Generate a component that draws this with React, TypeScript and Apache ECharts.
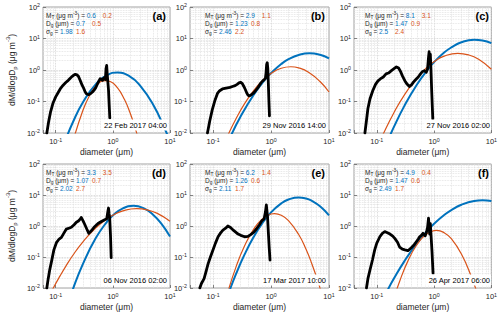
import React, { useEffect, useRef } from "react";
import * as echarts from "echarts";

const BLUE = "#0072BD";
const ORANGE = "#D95319";
const INK = "#262626";
const FONT = "'Liberation Sans', Arial, Helvetica, sans-serif";

// ---------- texts ----------
const panelLetters = ["(a)", "(b)", "(c)", "(d)", "(e)", "(f)"];
const panelDates = [
  "22 Feb 2017 04:00",
  "29 Nov 2016 14:00",
  "27 Nov 2016 02:00",
  "06 Nov 2016 02:00",
  "17 Mar 2017 10:00",
  "26 Apr 2017 06:00",
];
const massBlue = ["0.6", "2.9", "8.1", "3.3", "6.2", "4.9"];
const massOrange = ["0.2", "1.1", "3.1", "3.5", "1.4", "0.4"];
const dgBlue = ["0.7", "1.23", "1.47", "1.07", "1.26", "1.47"];
const dgOrange = ["0.5", "0.8", "0.9", "0.7", "0.6", "0.6"];
const sgBlue = ["1.98", "2.46", "2.5", "2.02", "2.11", "2.49"];
const sgOrange = ["1.6", "2.2", "2.4", "2.7", "1.7", "1.7"];

// ---------- axis ticks ----------
const yTickValues = [0.01, 0.1, 1, 10, 100];
const xTickValues = [0.1, 1, 10];
const minorSteps = [2, 3, 4, 5, 6, 7, 8, 9];
const xDecades = [0.01, 0.1, 1];
const yDecades = [0.01, 0.1, 1, 10];

// ---------- measured mass distributions [diameter um, dM/dlogDp] ----------
const measuredA = [[0.07,0.01],[0.075,0.022],[0.081,0.045],[0.09,0.09],[0.1,0.14],[0.11,0.19],[0.12,0.25],[0.135,0.33],[0.15,0.4],[0.166,0.47],[0.18,0.55],[0.195,0.63],[0.21,0.7],[0.22,0.73],[0.235,0.7],[0.25,0.63],[0.262,0.52],[0.275,0.42],[0.29,0.33],[0.31,0.26],[0.325,0.21],[0.34,0.18],[0.36,0.17],[0.38,0.165],[0.41,0.18],[0.44,0.2],[0.47,0.23],[0.5,0.27],[0.53,0.34],[0.56,0.42],[0.6,0.53],[0.63,0.5],[0.66,0.47],[0.69,0.55],[0.71,0.57],[0.74,0.5],[0.76,1.1],[0.78,1.4],[0.8,0.68],[0.82,0.4],[0.84,0.23],[0.86,0.09],[0.885,0.03]];
const measuredB = [[0.08,0.01],[0.088,0.025],[0.097,0.055],[0.108,0.11],[0.119,0.18],[0.13,0.22],[0.145,0.25],[0.16,0.26],[0.177,0.27],[0.195,0.28],[0.216,0.3],[0.24,0.32],[0.26,0.35],[0.28,0.39],[0.3,0.41],[0.32,0.37],[0.34,0.3],[0.36,0.24],[0.38,0.19],[0.4,0.16],[0.42,0.15],[0.45,0.16],[0.49,0.18],[0.54,0.22],[0.59,0.27],[0.63,0.33],[0.67,0.39],[0.72,0.45],[0.77,0.5],[0.8,0.55],[0.82,0.8],[0.84,1.5],[0.86,1.7],[0.88,1.1],[0.9,0.35],[0.92,0.1],[0.94,0.035]];
const measuredC = [[0.062,0.01],[0.066,0.025],[0.07,0.06],[0.076,0.12],[0.085,0.22],[0.095,0.35],[0.105,0.45],[0.115,0.52],[0.13,0.6],[0.145,0.75],[0.16,0.8],[0.18,0.95],[0.2,1.1],[0.22,1.25],[0.24,1.15],[0.26,0.9],[0.28,0.65],[0.31,0.45],[0.34,0.35],[0.37,0.3],[0.4,0.33],[0.44,0.42],[0.48,0.5],[0.53,0.6],[0.58,0.75],[0.63,0.9],[0.68,0.95],[0.73,0.85],[0.77,1.1],[0.8,2.5],[0.82,3.8],[0.84,2.0],[0.86,3.2],[0.88,1.2],[0.91,0.2],[0.95,0.028]];
const measuredD = [[0.07,0.01],[0.074,0.02],[0.079,0.04],[0.085,0.075],[0.093,0.17],[0.103,0.29],[0.115,0.38],[0.126,0.43],[0.14,0.6],[0.153,0.79],[0.17,0.85],[0.188,0.91],[0.21,1.1],[0.23,1.32],[0.25,1.45],[0.27,1.7],[0.28,1.9],[0.3,1.5],[0.32,1.16],[0.35,0.8],[0.38,0.58],[0.42,0.7],[0.48,0.95],[0.55,1.2],[0.63,1.4],[0.72,1.6],[0.78,1.7],[0.82,3.0],[0.84,3.8],[0.86,2.5],[0.88,1.9],[0.91,0.5],[0.935,0.095]];
const measuredE = [[0.059,0.01],[0.063,0.014],[0.07,0.02],[0.076,0.035],[0.082,0.06],[0.09,0.1],[0.1,0.17],[0.11,0.28],[0.122,0.45],[0.135,0.6],[0.148,0.74],[0.165,0.85],[0.18,1.0],[0.2,0.9],[0.22,0.75],[0.24,0.66],[0.27,0.55],[0.3,0.5],[0.35,0.45],[0.4,0.46],[0.44,0.52],[0.5,0.62],[0.56,0.8],[0.63,1.1],[0.7,1.5],[0.76,1.7],[0.8,2.8],[0.83,4.8],[0.85,3.0],[0.87,2.0],[0.9,0.6],[0.93,0.2],[0.96,0.08]];
const measuredF = [[0.066,0.01],[0.07,0.02],[0.076,0.038],[0.084,0.08],[0.092,0.17],[0.1,0.28],[0.113,0.45],[0.125,0.58],[0.138,0.66],[0.15,0.62],[0.17,0.55],[0.19,0.47],[0.206,0.4],[0.23,0.3],[0.25,0.21],[0.28,0.18],[0.31,0.17],[0.35,0.16],[0.4,0.2],[0.45,0.25],[0.49,0.31],[0.53,0.38],[0.56,0.45],[0.6,0.5],[0.64,0.58],[0.7,0.48],[0.74,0.65],[0.77,0.9],[0.8,1.8],[0.82,0.9],[0.84,0.55],[0.86,1.2],[0.88,0.6],[0.92,0.15],[0.96,0.03]];

// ---------- fitted modes (blue = fit 1, orange = fit 2) ----------
const blueFitA = [[0.15,0.0062],[0.2,0.022],[0.3,0.094],[0.5,0.35],[0.8,0.69],[1.2,0.83],[2,0.62],[3,0.32],[5,0.084],[8,0.0144],[10,0.0052]];
const orangeFitA = [[0.2,0.0053],[0.3,0.053],[0.4,0.167],[0.5,0.3],[0.7,0.46],[0.9,0.43],[1.2,0.275],[1.6,0.115],[2,0.044],[2.5,0.013],[3,0.004]];
const blueFitB = [[0.2,0.0077],[0.3,0.034],[0.5,0.16],[0.8,0.51],[1,0.8],[1.5,1.55],[2,2.2],[3,3.0],[4.6,3.4],[7,3.05],[10,2.35]];
const orangeFitB = [[0.18,0.0085],[0.25,0.029],[0.35,0.086],[0.5,0.22],[0.7,0.45],[1,0.78],[1.5,1.14],[2.2,1.27],[3,1.17],[4.5,0.84],[7,0.43],[10,0.2]];
const blueFitC = [[0.15,0.0049],[0.2,0.0159],[0.3,0.07],[0.5,0.34],[0.8,1.11],[1,1.78],[1.5,3.59],[2,5.2],[3,7.6],[5,9.1],[7,8.7],[10,7.1]];
const orangeFitC = [[0.1,0.0032],[0.13,0.0094],[0.2,0.045],[0.3,0.157],[0.5,0.56],[0.8,1.35],[1,1.84],[1.5,2.76],[2.6,3.39],[4,3.02],[6,2.18],[10,1.06]];
const blueFitD = [[0.15,0.0019],[0.2,0.0091],[0.3,0.06],[0.5,0.4],[0.8,1.41],[1,2.18],[1.5,3.71],[2.3,4.47],[3.5,3.71],[5,2.37],[7,1.22],[10,0.46]];
const orangeFitD = [[0.07,0.0038],[0.09,0.0096],[0.12,0.025],[0.15,0.05],[0.2,0.114],[0.3,0.31],[0.5,0.86],[0.8,1.74],[1,2.23],[1.5,3.08],[2.6,3.63],[4,3.31],[6,2.55],[10,1.43]];
const blueFitE = [[0.18,0.0059],[0.25,0.029],[0.35,0.121],[0.5,0.44],[0.7,1.19],[1,2.75],[1.5,5.36],[2,7.16],[3,8.32],[4,7.71],[5,6.55],[7,4.31],[10,2.2]];
const orangeFitE = [[0.18,0.0075],[0.25,0.049],[0.35,0.23],[0.5,0.78],[0.7,1.66],[1,2.43],[1.15,2.51],[1.5,2.22],[2,1.49],[3,0.53],[4,0.18],[5,0.064],[6.5,0.0155],[8,0.0042]];
const blueFitF = [[0.15,0.0077],[0.2,0.0205],[0.3,0.071],[0.5,0.275],[0.8,0.77],[1,1.18],[1.5,2.25],[2,3.27],[3,4.83],[5,6.4],[7,6.76],[10,6.4]];
const orangeFitF = [[0.2,0.0047],[0.25,0.0163],[0.35,0.075],[0.5,0.248],[0.7,0.51],[1,0.71],[1.1,0.72],[1.5,0.61],[2,0.39],[3,0.125],[4.5,0.0228],[5.5,0.0079]];

const measured = [measuredA, measuredB, measuredC, measuredD, measuredE, measuredF];
const blueFits = [blueFitA, blueFitB, blueFitC, blueFitD, blueFitE, blueFitF];
const orangeFits = [orangeFitA, orangeFitB, orangeFitC, orangeFitD, orangeFitE, orangeFitF];

// ---------- layout ----------
const COLS = [
  { left: 43, width: 127, xMin: 0.06, textDx: 3 },
  { left: 190, width: 139, xMin: 0.04, textDx: 15 },
  { left: 354, width: 139, xMin: 0.04, textDx: 11 },
];
const ROWS = [
  { top: 7, height: 126 },
  { top: 164, height: 124 },
];

const powerLabel = (v: number) => {
  const e = Math.log10(v);
  const r = Math.round(e);
  if (Math.abs(e - r) > 1e-6) return "";
  return `{b|10}{s|${r}}`;
};

const tickRich = {
  b: { fontSize: 7.5, fontFamily: FONT, color: INK, lineHeight: 8.5, verticalAlign: "middle" },
  s: { fontSize: 5.3, fontFamily: FONT, color: INK, lineHeight: 8.5, verticalAlign: "top" },
};

function buildOption() {
  const grid: any[] = [];
  const xAxis: any[] = [];
  const yAxis: any[] = [];
  const series: any[] = [];
  const graphic: any[] = [];

  for (let i = 0; i < 6; i++) {
    const r = ROWS[Math.floor(i / 3)];
    const c = COLS[i % 3];
    grid.push({
      left: c.left, top: r.top, width: c.width, height: r.height,
      show: true, borderColor: "#a3a3a3", borderWidth: 1, backgroundColor: "#fff",
    });
    xAxis.push({
      type: "log", logBase: 10, gridIndex: i, min: c.xMin, max: xTickValues[xTickValues.length - 1],
      axisLine: { show: false },
      axisTick: { show: true, inside: true, length: 3, lineStyle: { color: "#666", width: 0.8 } },
      splitLine: { show: true, lineStyle: { color: "#cccccc", type: "dotted", width: 0.8 } },
      axisLabel: { margin: 4.5, formatter: powerLabel, rich: tickRich },
      name: "diameter (μm)", nameLocation: "middle", nameGap: 14,
      nameTextStyle: { fontSize: 8.5, fontFamily: FONT, color: INK },
    });
    yAxis.push({
      type: "log", logBase: 10, gridIndex: i, min: yTickValues[0], max: yTickValues[yTickValues.length - 1],
      axisLine: { show: false },
      axisTick: { show: true, inside: true, length: 3, lineStyle: { color: "#666", width: 0.8 } },
      splitLine: { show: true, lineStyle: { color: "#cccccc", type: "dotted", width: 0.8 } },
      axisLabel: { margin: 3, formatter: powerLabel, rich: tickRich },
      name: i % 3 === 0 ? "dM/dlogD{sub|p} (μg m{sup|-3})" : "",
      nameLocation: "middle", nameGap: 25,
      nameTextStyle: {
        fontSize: 8.5, fontFamily: FONT, color: INK, lineHeight: 13,
        rich: {
          sub: { fontSize: 6, fontFamily: FONT, color: INK, lineHeight: 13, verticalAlign: "bottom" },
          sup: { fontSize: 6, fontFamily: FONT, color: INK, lineHeight: 13, verticalAlign: "top" },
        },
      },
    });

    const minorX: any[] = [];
    xDecades.forEach((d) => minorSteps.forEach((m) => {
      const v = d * m;
      if (v > c.xMin * 1.0001) minorX.push({ xAxis: v });
    }));
    const minorY: any[] = [];
    yDecades.forEach((d) => minorSteps.forEach((m) => minorY.push({ yAxis: d * m })));

    // minor grid lines, drawn beneath the curves
    series.push({
      type: "line", xAxisIndex: i, yAxisIndex: i, data: [], silent: true, z: 1,
      markLine: {
        z: 1, silent: true, symbol: ["none", "none"], label: { show: false }, animation: false,
        lineStyle: { color: "#dedede", type: "dotted", width: 0.8 },
        emphasis: { disabled: true },
        data: [...minorX, ...minorY],
      },
    });
    series.push({
      type: "line", xAxisIndex: i, yAxisIndex: i, data: blueFits[i], smooth: true,
      symbol: "none", showSymbol: false, z: 3, clip: true,
      lineStyle: { color: BLUE, width: 2, type: "solid" },
    });
    series.push({
      type: "line", xAxisIndex: i, yAxisIndex: i, data: orangeFits[i], smooth: true,
      symbol: "none", showSymbol: false, z: 4, clip: true,
      lineStyle: { color: ORANGE, width: 1.2, type: "solid" },
    });
    series.push({
      type: "line", xAxisIndex: i, yAxisIndex: i, data: measured[i], smooth: false,
      symbol: "none", showSymbol: false, z: 5, clip: true,
      lineStyle: { color: "#000", width: 2.8, join: "round", cap: "round" },
    });

    const annRich = {
      k: { fontSize: 6.5, fontFamily: FONT, fill: INK, color: INK, lineHeight: 9, verticalAlign: "middle" },
      ks: { fontSize: 4.8, fontFamily: FONT, fill: INK, color: INK, lineHeight: 9, verticalAlign: "bottom" },
      kp: { fontSize: 4.8, fontFamily: FONT, fill: INK, color: INK, lineHeight: 9, verticalAlign: "top" },
      bl: { fontSize: 6.5, fontFamily: FONT, fill: BLUE, color: BLUE, lineHeight: 9, width: 16, verticalAlign: "middle" },
      or: { fontSize: 6.5, fontFamily: FONT, fill: ORANGE, color: ORANGE, lineHeight: 9, verticalAlign: "middle" },
    };
    const tx = c.left + c.textDx;
    const lines = [
      `{k|M}{ks|T}{k| (μg m}{kp|-3}{k|) = }{bl|${massBlue[i]}}{or|${massOrange[i]}}`,
      `{k|D}{ks|g}{k| (μm) = }{bl|${dgBlue[i]}}{or|${dgOrange[i]}}`,
      `{k|σ}{ks|g}{k| = }{bl|${sgBlue[i]}}{or|${sgOrange[i]}}`,
    ];
    lines.forEach((t, j) => {
      graphic.push({
        type: "text", z: 100, x: tx, y: r.top + 8 + j * 8.3,
        style: { text: t, rich: annRich, fontSize: 6.5, fontFamily: FONT, fill: INK, align: "left", verticalAlign: "middle" },
      });
    });
    graphic.push({
      type: "text", z: 100, x: c.left + c.width - 4, y: r.top + 8.5,
      style: { text: panelLetters[i], fontSize: 11, fontWeight: "bold", fontFamily: FONT, fill: "#000", align: "right", verticalAlign: "middle" },
    });
    graphic.push({
      type: "text", z: 100, x: c.left + c.width - 2, y: r.top + r.height - 8,
      style: {
        text: panelDates[i], fontSize: 7.5, fontFamily: FONT, fill: "#000", align: "right", verticalAlign: "middle",
        backgroundColor: "#fff", padding: [2, 1, 1, 3],
      },
    });
  }

  return { animation: false, backgroundColor: "#fff", grid, xAxis, yAxis, series, graphic };
}

export default function App() {
  const ref = useRef<HTMLDivElement>(null);
  useEffect(() => {
    document.body.style.margin = "0";
    if (!ref.current) return;
    const chart = echarts.init(ref.current, undefined, { renderer: "svg" });
    chart.setOption(buildOption() as any);
    return () => chart.dispose();
  }, []);
  return <div ref={ref} style={{ width: 500, height: 316 }} />;
}
